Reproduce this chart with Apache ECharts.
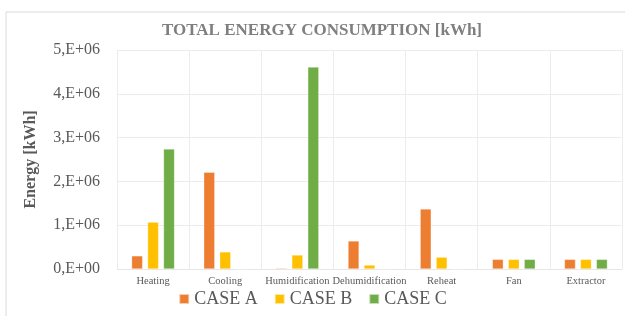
<!DOCTYPE html>
<html>
<head>
<meta charset="utf-8">
<script src="https://cdn.jsdelivr.net/npm/echarts@6/dist/echarts.min.js"></script>
<style>
  html, body { margin: 0; padding: 0; background: #fff; }
  #chart { width: 625px; height: 316px; }
</style>
</head>
<body>
<div id="chart"></div>
<script>
const categories = ['Heating', 'Cooling', 'Humidification', 'Dehumidification', 'Reheat', 'Fan', 'Extractor'];
const caseA = [300000, 2210000, 20000, 640000, 1370000, 220000, 220000];
const caseB = [1070000, 390000, 320000, 90000, 270000, 220000, 220000];
const caseC = [2740000, 0, 4610000, 0, 0, 220000, 220000];
const seriesNames = ['CASE A', 'CASE B', 'CASE C'];
const colors = ['#ED7D31', '#FFC000', '#70AD47'];

const font = 'Liberation Serif';

// 0,E+00 style labels (Excel with comma decimal)
function sci(v) {
  const m = Math.round(v / 1e6);
  return m === 0 ? '0,E+00' : m + ',E+06';
}

const chart = echarts.init(document.getElementById('chart'));

const bar = (name, data, i) => ({
  name: name,
  type: 'bar',
  data: data,
  barWidth: 11,
  barGap: '45%',
  itemStyle: { color: colors[i], borderColor: 'rgba(255,255,255,0.6)', borderWidth: 0.5 },
});

chart.setOption({
  animation: false,
  textStyle: { fontFamily: font },
  graphic: [{
    type: 'rect',
    shape: { x: 6, y: 12, width: 640, height: 320 },
    style: { fill: 'none', stroke: '#d9d9d9', lineWidth: 1 },
    silent: true,
  }],
  title: {
    text: 'TOTAL ENERGY CONSUMPTION [kWh]',
    left: 317,
    textAlign: 'center',
    top: 17,
    textStyle: { fontFamily: font, fontSize: 17, fontWeight: 'bold', color: '#7f7f7f' },
  },
  legend: {
    data: seriesNames,
    bottom: 3,
    left: 'center',
    itemWidth: 10,
    itemHeight: 10,
    itemGap: 16,
    icon: 'rect',
    formatter: '{t|{name}}',
    textStyle: {
      fontFamily: font, fontSize: 18, color: '#595959',
      rich: { t: { fontFamily: font, fontSize: 18, color: '#595959' } },
    },
  },
  grid: { left: 117, right: 3, top: 50, bottom: 47 },
  xAxis: {
    type: 'category',
    data: categories,
    axisTick: { show: false },
    axisLine: { lineStyle: { color: '#e6e6e6' } },
    splitLine: { show: true, lineStyle: { color: '#ececec' } },
    axisLabel: { fontFamily: font, fontSize: 10.5, color: '#595959', margin: 7, interval: 0 },
  },
  yAxis: {
    type: 'value',
    min: 0,
    max: 5000000,
    interval: 1000000,
    name: 'Energy [kWh]',
    nameLocation: 'middle',
    nameGap: 78,
    nameTextStyle: { fontFamily: font, fontSize: 16, fontWeight: 'bold', color: '#595959' },
    axisLine: { show: false },
    axisTick: { show: false },
    splitLine: { lineStyle: { color: '#ececec' } },
    axisLabel: { fontFamily: font, fontSize: 16, color: '#595959', margin: 17, formatter: sci },
  },
  series: [bar(seriesNames[0], caseA, 0), bar(seriesNames[1], caseB, 1), bar(seriesNames[2], caseC, 2)],
});
</script>
</body>
</html>
